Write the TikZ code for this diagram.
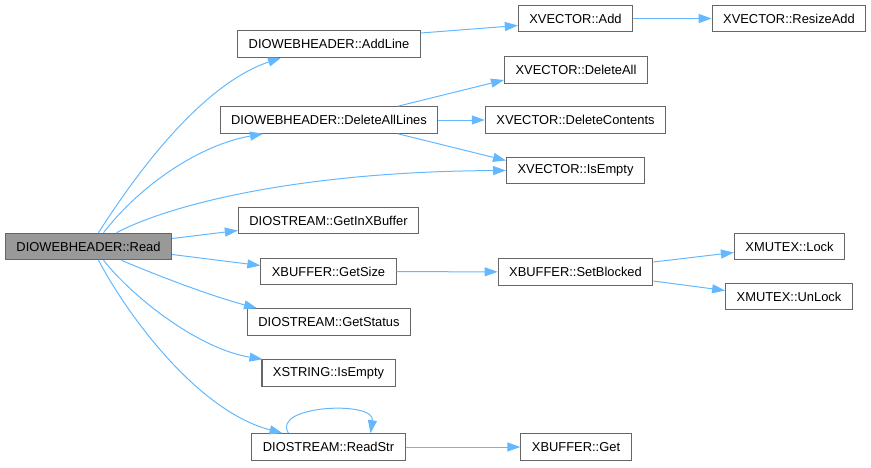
\documentclass[tikz,border=0pt]{standalone}
\usepackage{fontspec}
\setmainfont{Liberation Sans}
\usetikzlibrary{arrows.meta}
\definecolor{edgeblue}{HTML}{63B8FF}
\definecolor{nodeline}{HTML}{666666}
\definecolor{rootfill}{HTML}{999999}
\begin{document}
\begin{tikzpicture}[x=1pt,y=-1pt,font=\fontsize{12.9}{15}\selectfont,
 fn/.style={draw=nodeline,fill=white,line width=1.1pt,inner xsep=11pt,inner ysep=0pt,minimum height=26.5pt},
 root/.style={fn,fill=rootfill},
 ar/.style={-{Triangle[length=13pt,width=9pt]},edgeblue,line width=1pt}]
\useasboundingbox (0,0) rectangle (871,467);
% callees, column by column
\node[root] (read) at (88.5,246.5) {DIOWEBHEADER::Read};
\node[fn] (addline) at (329,44) {DIOWEBHEADER::AddLine};
\node[fn] (dallines) at (329,120) {DIOWEBHEADER::DeleteAllLines};
\node[fn] (getinx) at (328.5,220.5) {DIOSTREAM::GetInXBuffer};
\node[fn] (getsize) at (328.5,271.5) {XBUFFER::GetSize};
\node[fn] (getstatus) at (329,322) {DIOSTREAM::GetStatus};
\node[fn] (sisempty) at (328.5,373) {XSTRING::IsEmpty};
\node[fn] (readstr) at (328.5,447) {DIOSTREAM::ReadStr};
\node[fn] (vadd) at (575.5,18.5) {XVECTOR::Add};
\node[fn] (vdelall) at (576,70) {XVECTOR::DeleteAll};
\node[fn] (vdelcont) at (575.5,120) {XVECTOR::DeleteContents};
\node[fn] (visempty) at (575.5,170.5) {XVECTOR::IsEmpty};
\node[fn] (setblocked) at (575.5,272) {XBUFFER::SetBlocked};
\node[fn] (bget) at (576,447) {XBUFFER::Get};
\node[fn] (vresize) at (789,18.5) {XVECTOR::ResizeAdd};
\node[fn] (lock) at (789.5,246.5) {XMUTEX::Lock};
\node[fn] (unlock) at (789,296.5) {XMUTEX::UnLock};
% calls from Read
\draw[ar] ([xshift=10]read.north) .. controls +(37,-58) and +(-80,27) .. ([xshift=-48]addline.south);
\draw[ar] ([xshift=15]read.north) .. controls +(37,-48) and +(-63,11) .. ([xshift=-66]dallines.south);
\draw[ar] ([xshift=28]read.north) .. controls +(53,-28) and +(-207,1) .. (visempty.west);
\draw[ar] ([yshift=8]read.east) -- ([yshift=-10]getinx.west);
\draw[ar] ([yshift=-8]read.east) -- ([yshift=6]getsize.west);
\draw[ar] ([xshift=33]read.south) .. controls +(40,17) and +(-45,-12) .. ([xshift=-72]getstatus.north);
\draw[ar] ([xshift=15]read.south) .. controls +(32,40) and +(-62,-10) .. ([xshift=-66]sisempty.north);
\draw[ar] ([xshift=10]read.south) .. controls +(32,60) and +(-83,-22) .. ([xshift=-46]readstr.north);
% second level
\draw[ar] ([yshift=11]addline.east) -- ([yshift=-7]vadd.west);
\draw[ar] (vadd) -- (vresize);
\draw[ar] ([xshift=69]dallines.north) -- ([yshift=-10]vdelall.west);
\draw[ar] (dallines) -- (vdelcont);
\draw[ar] ([xshift=69]dallines.south) -- ([yshift=10]visempty.west);
\draw[ar] (getsize) -- (setblocked);
\draw[ar] ([yshift=10]setblocked.east) -- ([yshift=-6]lock.west);
\draw[ar] ([yshift=-9]setblocked.east) -- ([yshift=6]unlock.west);
\draw[ar] (readstr) -- (bget);
\draw[ar] ([xshift=-40]readstr.north) .. controls +(-18,-28) and +(5,-33) .. ([xshift=42]readstr.north);
\end{tikzpicture}
\end{document}
